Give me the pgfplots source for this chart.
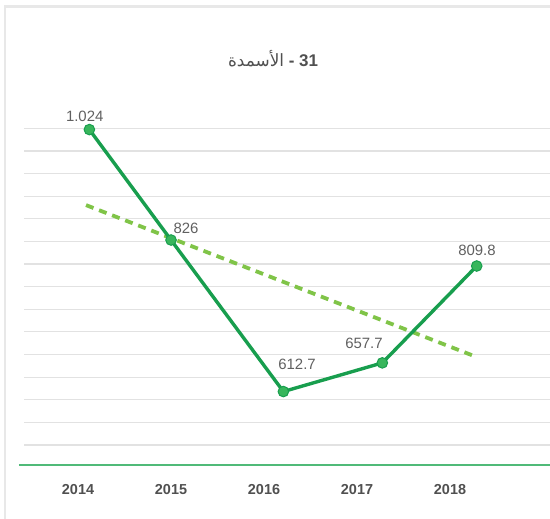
\documentclass[border=0pt]{standalone}
\usepackage{fontspec}
\setmainfont{Liberation Sans}
\newfontfamily\arabicfont[Script=Arabic]{DejaVu Sans}
\TeXXeTstate=1
\usepackage{pgfplots}
\pgfplotsset{compat=1.18}
\definecolor{lineg}{RGB}{24,158,78}
\definecolor{markg}{RGB}{56,182,92}
\definecolor{trendg}{RGB}{128,196,72}
\definecolor{basegreen}{RGB}{80,186,120}
\definecolor{gridgray}{RGB}{226,226,226}
\definecolor{cardgray}{RGB}{232,232,232}
\definecolor{labgray}{RGB}{96,96,96}
\definecolor{ticklab}{RGB}{80,80,80}
\definecolor{titlegray}{RGB}{80,80,80}
\begin{document}
\begin{tikzpicture}
\path[use as bounding box] (0,0) rectangle (550bp,519bp);
\draw[color=cardgray, line width=2.5bp] (5bp,-2bp) -- (5bp,512.5bp) -- (552bp,512.5bp);
\node[font=\fontsize{17}{20}\selectfont, text=titlegray, inner sep=0] at (273bp,460.5bp) {{\arabicfont\beginR الأسمدة\endR} \textbf{- 31}};
\begin{axis}[
  at={(24bp,54bp)}, anchor=south west,
  scale only axis, width=526bp, height=336.7bp,
  xmin=-0.581, xmax=5.075, ymin=497.4, ymax=1026,
  axis line style={draw=none}, major tick length=0,
  xtick={0,1,2,3,4}, xticklabels={2014,2015,2016,2017,2018},
  xticklabel style={font=\fontsize{14.5}{17}\selectfont\bfseries, text=ticklab, anchor=center, inner sep=0, yshift=-25bp},
  ytick={528.8,564.31,599.83,635.34,670.86,706.37,741.89,777.4,812.91,848.43,883.94,919.46,954.97,990.49,1026},
  yticklabels={},
  ymajorgrids, grid style={color=gridgray, line width=1.2bp},
  clip=false
]
\draw[color=basegreen, line width=1.5bp] ([xshift=-5bp]rel axis cs:0,0) -- (rel axis cs:1,0);
\addplot[trendg, dash pattern=on 8bp off 6bp, line width=3.8bp] coordinates {(0.086,905.4) (4.29,666.7)};
\addplot[lineg, line width=3.4bp, mark=*, mark size=5.3bp, mark options={fill=markg, draw=lineg, line width=1bp, solid}] coordinates {(0.122,1024) (1.0,850.6) (2.208,612.7) (3.272,657.7) (4.287,809.8)};
\addplot[draw=none, mark=none, nodes near coords, point meta=explicit symbolic,
  nodes near coords style={font=\fontsize{15}{18}\selectfont, text=labgray, anchor=center, inner sep=0}]
  table[meta=lab] {
x y lab
0.072 1044.2 1.024
1.161 869 826
2.355 655.5 612.7
3.075 688.4 657.7
4.29 833.8 809.8
};
\end{axis}
\end{tikzpicture}
\end{document}
